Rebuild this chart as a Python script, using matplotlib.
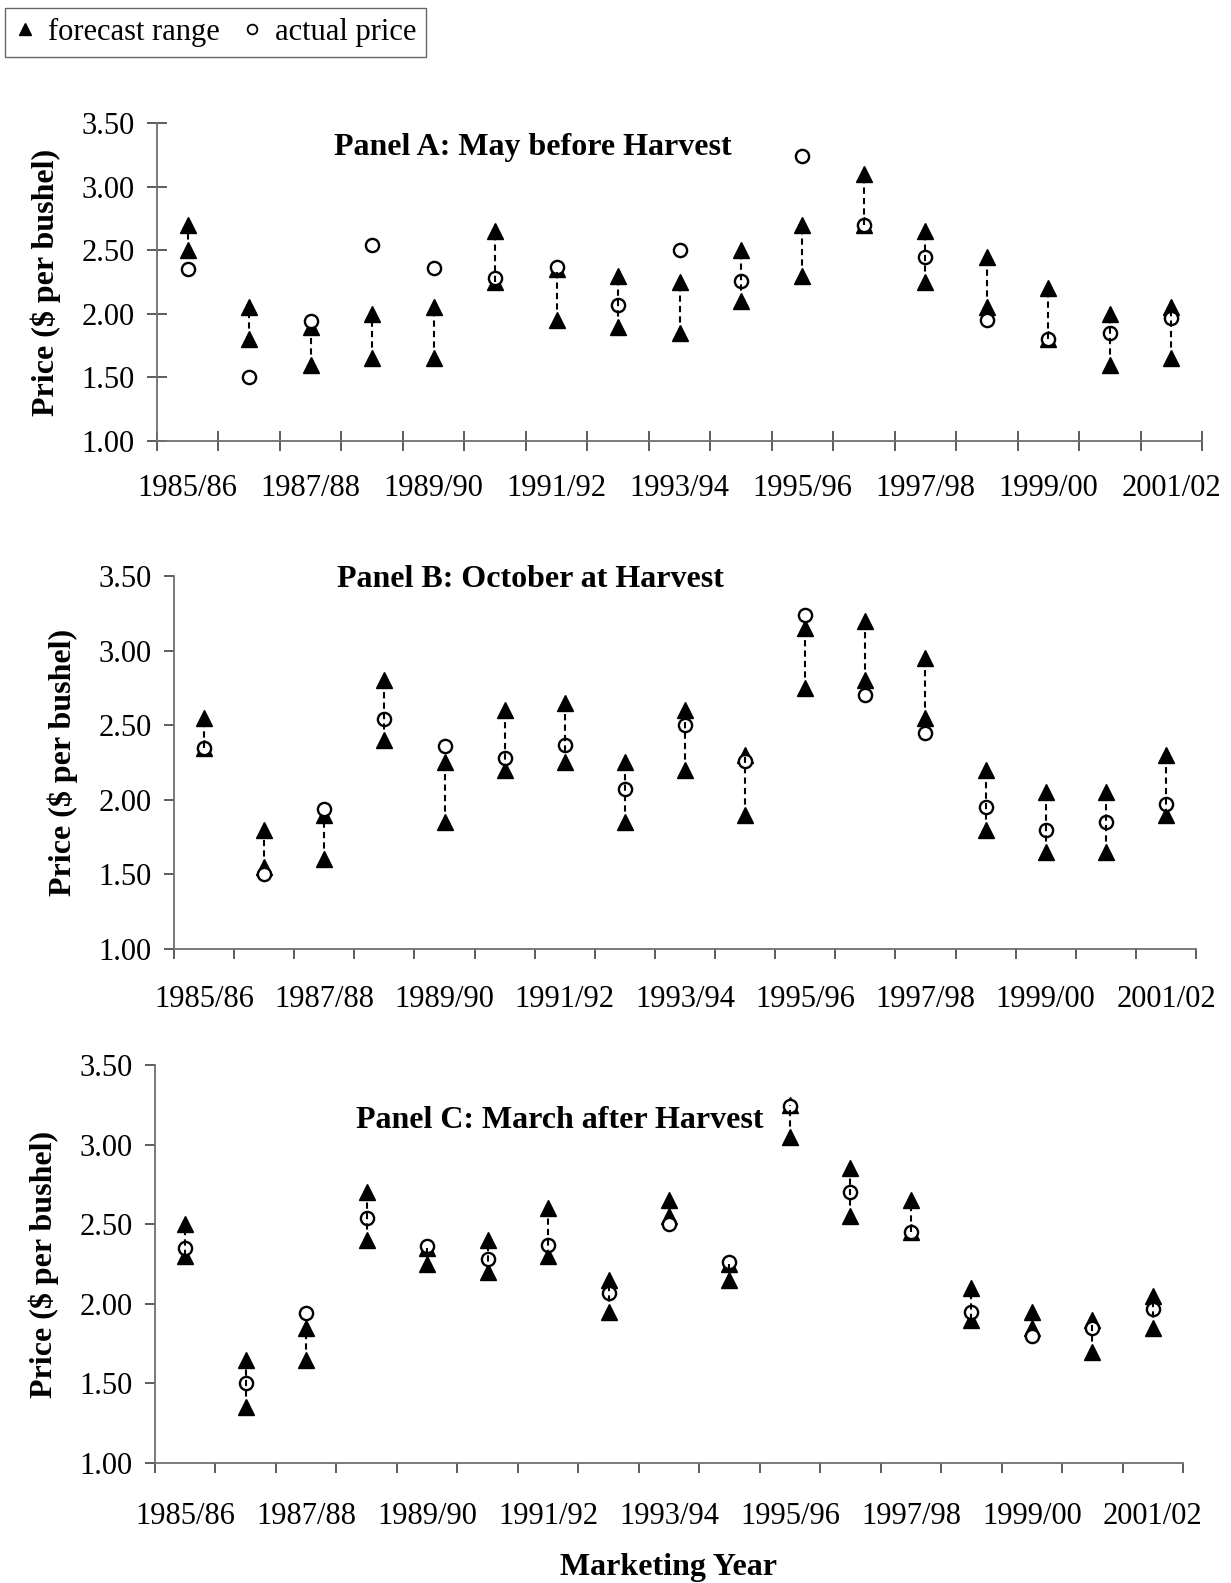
import numpy as np
import matplotlib
matplotlib.use("Agg")
import matplotlib.pyplot as plt
from matplotlib.lines import Line2D

plt.rcParams["font.family"] = ["Liberation Serif", "DejaVu Serif"]

years = ["1985/86", "1986/87", "1987/88", "1988/89", "1989/90", "1990/91",
         "1991/92", "1992/93", "1993/94", "1994/95", "1995/96", "1996/97",
         "1997/98", "1998/99", "1999/00", "2000/01", "2001/02"]
actual = [2.35, 1.50, 1.94, 2.54, 2.36, 2.28, 2.37, 2.07, 2.50, 2.26,
          3.24, 2.70, 2.45, 1.95, 1.80, 1.85, 1.97]

# forecast range, high / low, per panel
a_high = [2.70, 2.05, 1.90, 2.00, 2.05, 2.65, 2.35, 2.30, 2.25, 2.50,
          2.70, 3.10, 2.65, 2.45, 2.20, 2.00, 2.05]
a_low = [2.50, 1.80, 1.60, 1.65, 1.65, 2.25, 1.95, 1.90, 1.85, 2.10,
         2.30, 2.70, 2.25, 2.05, 1.80, 1.60, 1.65]
b_high = [2.55, 1.80, 1.90, 2.80, 2.25, 2.60, 2.65, 2.25, 2.60, 2.30,
          3.15, 3.20, 2.95, 2.20, 2.05, 2.05, 2.30]
b_low = [2.35, 1.55, 1.60, 2.40, 1.85, 2.20, 2.25, 1.85, 2.20, 1.90,
         2.75, 2.80, 2.55, 1.80, 1.65, 1.65, 1.90]
c_high = [2.50, 1.65, 1.85, 2.70, 2.35, 2.40, 2.60, 2.15, 2.65, 2.25,
          3.25, 2.85, 2.65, 2.10, 1.95, 1.90, 2.05]
c_low = [2.30, 1.35, 1.65, 2.40, 2.25, 2.20, 2.30, 1.95, 2.55, 2.15,
         3.05, 2.55, 2.45, 1.90, 1.85, 1.70, 1.85]

titles = ["Panel A: May before Harvest", "Panel B: October at Harvest",
          "Panel C: March after Harvest"]
yticks = [1.00, 1.50, 2.00, 2.50, 3.00, 3.50]

W, H = 1231, 1583
fig = plt.figure(figsize=(W / 100, H / 100), dpi=100)

# pixel boxes (left, right, top, bottom), title centre, ylabel x, tick style, label pad
panels = [
    dict(box=(157, 1202, 123, 441), title=(533, 148), ylab=46, tdir="inout", xpad=24),
    dict(box=(174, 1196, 576, 949), title=(530, 580), ylab=63, tdir="out", xpad=26),
    dict(box=(155, 1183, 1065, 1463), title=(560, 1120), ylab=44, tdir="out", xpad=28),
]
highs = [a_high, b_high, c_high]
lows = [a_low, b_low, c_low]

x = np.arange(len(years))
for p, hi, lo, title in zip(panels, highs, lows, titles):
    l, r, t, b = p["box"]
    ax = fig.add_axes([l / W, 1 - b / H, (r - l) / W, (b - t) / H])
    ax.plot(x, hi, ls="none", marker="^", ms=11.5, color="black", zorder=3)
    ax.plot(x, lo, ls="none", marker="^", ms=11.5, color="black", zorder=3)
    ax.plot(x, actual, ls="none", marker="o", ms=9.5, mfc="white", mec="black",
            mew=1.7, zorder=4)
    # high-low line sits over the markers, so it shows through the circles
    ax.vlines(x, lo, hi, colors="black", linestyles=(0, (3, 2)), lw=1.5, zorder=5)

    ax.set_xlim(-0.5, len(years) - 0.5)
    ax.set_ylim(1.0, 3.5)
    for s in ("top", "right"):
        ax.spines[s].set_visible(False)
    for s in ("left", "bottom"):
        ax.spines[s].set_color("#707070")
        ax.spines[s].set_linewidth(1.3)

    ax.set_yticks(yticks)
    ax.set_yticklabels([f"{v:.2f}" for v in yticks])
    ax.set_xticks(np.arange(-0.5, len(years), 1.0))
    ax.set_xticklabels([])
    ax.set_xticks(x[::2], minor=True)
    ax.set_xticklabels(years[::2], minor=True)
    size = 14.4 if p["tdir"] == "inout" else 7.2
    ax.tick_params(axis="both", which="major", direction=p["tdir"], length=size,
                   width=1.1, color="#303030", labelsize=22)
    ax.tick_params(axis="y", pad=9)
    ax.tick_params(axis="x", which="minor", length=0, labelsize=22, pad=p["xpad"])

    fig.text(p["title"][0] / W, 1 - p["title"][1] / H, title, ha="center", va="center",
             fontsize=23, fontweight="bold")
    fig.text(p["ylab"] / W, 1 - (t + b) / 2 / H, "Price ($ per bushel)", rotation=90,
             ha="center", va="center", fontsize=23, fontweight="bold")

fig.text(669 / W, 1 - 1567 / H, "Marketing Year", ha="center", va="center",
         fontsize=23, fontweight="bold")

handles = [Line2D([], [], ls="none", marker="^", ms=8, color="black"),
           Line2D([], [], ls="none", marker="o", ms=7, mfc="white", mec="black", mew=1.3)]
leg = fig.legend(handles, ["forecast range", "actual price"], loc="upper left",
                 bbox_to_anchor=(5 / W, 1 - 8 / H), ncol=2, frameon=True, fancybox=False,
                 edgecolor="#404040", borderaxespad=0, handlelength=0.7, handletextpad=0.4,
                 columnspacing=0.7, borderpad=0.32, fontsize=22)
leg.get_frame().set_linewidth(1.0)

fig.savefig("out.png", dpi=100)
